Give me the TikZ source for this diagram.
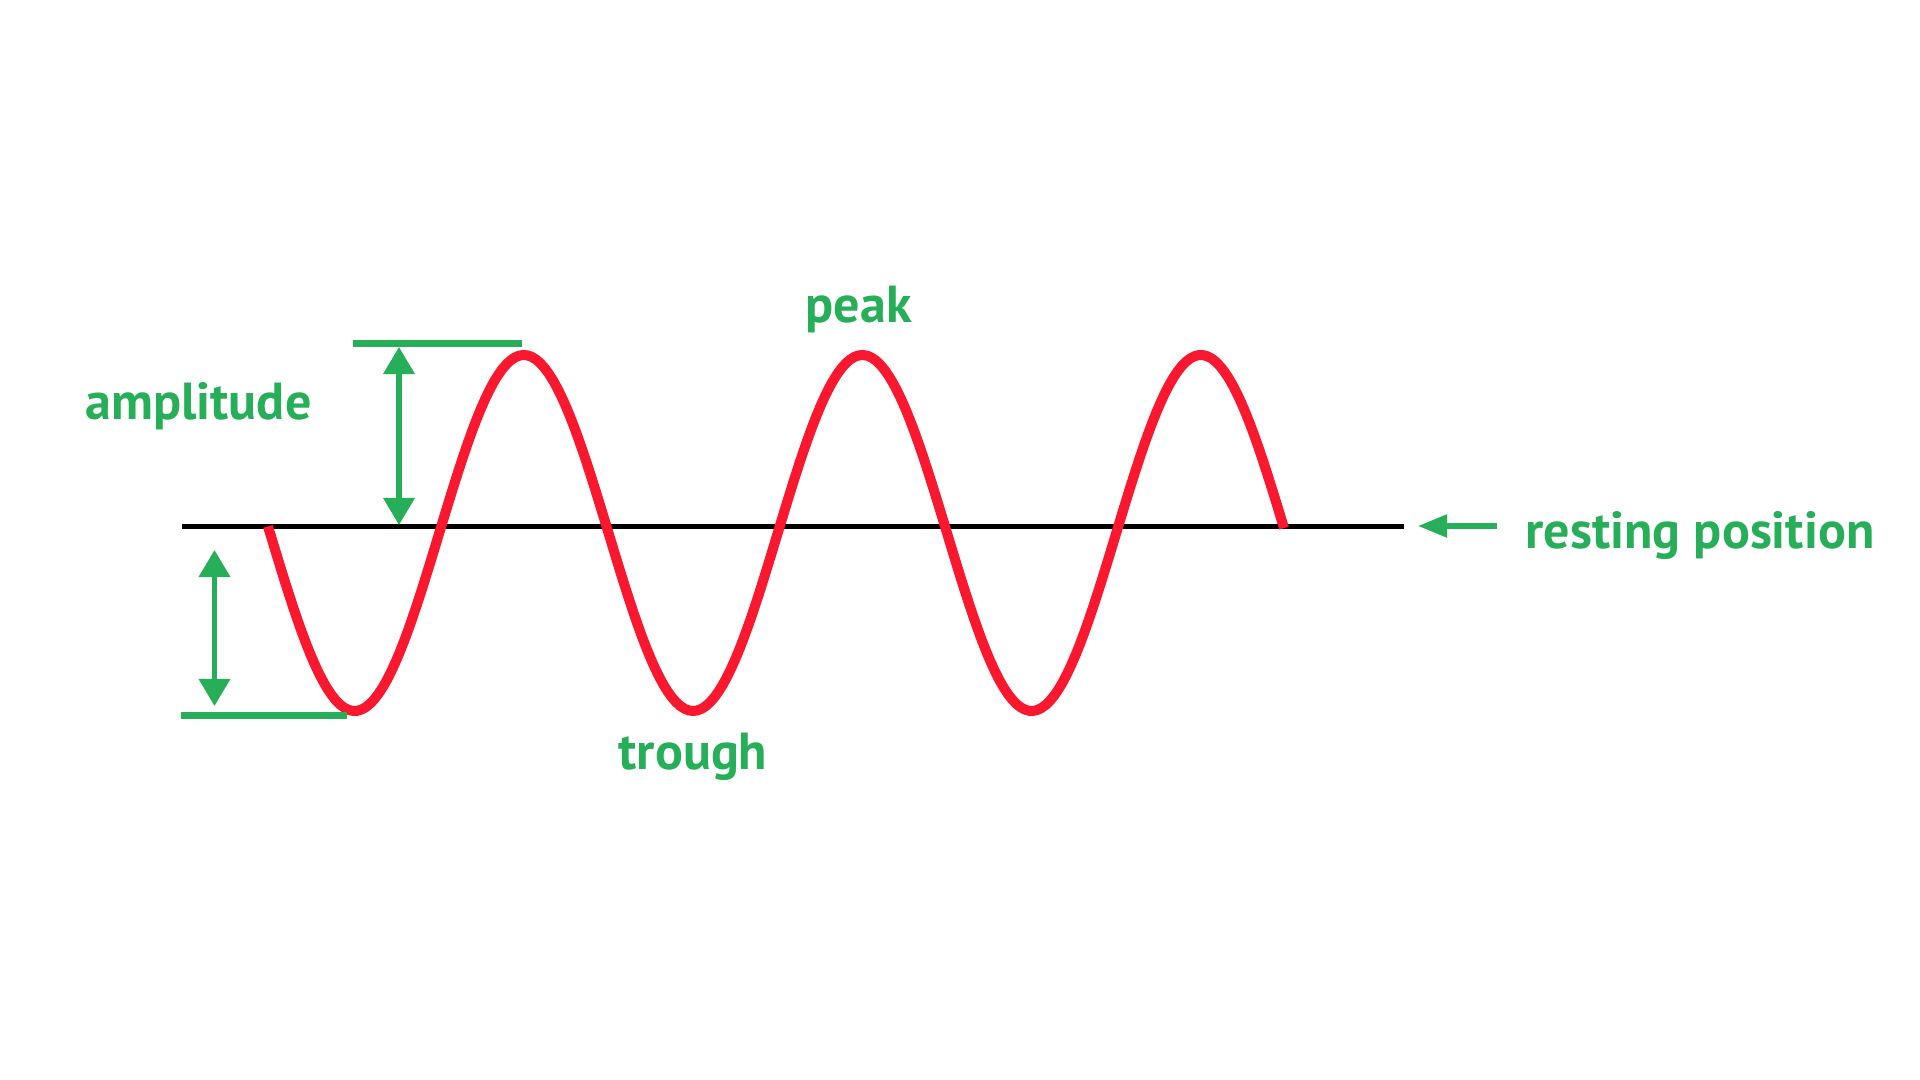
\documentclass[tikz,border=0pt]{standalone}
\usepackage{fontspec}
\setmainfont{PT Sans}
\usetikzlibrary{arrows.meta}

\definecolor{wavered}{RGB}{250,24,46}
\definecolor{labelgreen}{RGB}{38,174,88}

\begin{document}
\begin{tikzpicture}[x=0.01cm,y=-0.01cm]
        \useasboundingbox (0,0) rectangle (1920,1080);
        % resting position and the wave
        \coordinate (L0) at (182,526.5);
        \coordinate (L1) at (1404,526.5);
        \draw[black, line width=1.35pt] (L0) -- (L1);
        \draw[wavered, line width=2.85pt] plot[domain=268:1284, samples=240]
            (\x, {533 + 178*sin((\x-270)*1.06352)});

        % amplitude marks
        \begin{scope}[labelgreen, line width=1.9pt]
            \coordinate (T0) at (353,343.3);
            \coordinate (T1) at (522,343.3);
            \coordinate (B0) at (181,715.3);
            \coordinate (B1) at (347,715.3);
            \draw (T0) -- (T1);
            \draw (B0) -- (B1);
        \end{scope}

        \begin{scope}[labelgreen, line width=1.5pt,
                >={Triangle[width=8.7pt,length=7.7pt]}]
            \coordinate (A0) at (399,347);
            \coordinate (A1) at (399,525);
            \coordinate (C0) at (214.5,550);
            \coordinate (C1) at (214.5,706);
            \path [<->] (A0) edge (A1);
            \path [<->] (C0) edge (C1);
            \coordinate (R0) at (1497,526);
            \coordinate (R1) at (1418,526);
            \path [->, >={Triangle[width=6.3pt,length=8.3pt]}] (R0) edge (R1);
        \end{scope}

        \begin{scope}[every node/.style={labelgreen, font=\bfseries\fontsize{14.8pt}{17pt}\selectfont, inner sep=0pt, anchor=base west}]
            \node (amp) at (85,420) {amplitude};
            \node (peak) at (805,323) {peak};
            \node (trough) at (618,770) {trough};
            \node (rest) at (1525,549) {resting position};
        \end{scope}
    \end{tikzpicture}
\end{document}
